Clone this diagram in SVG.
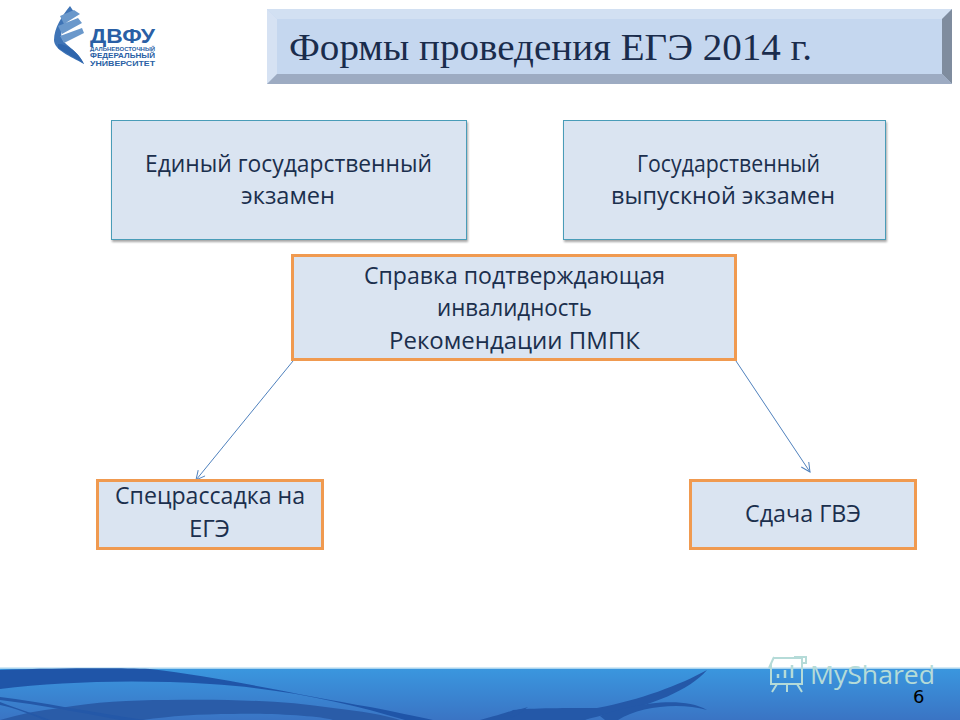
<svg xmlns="http://www.w3.org/2000/svg" width="960" height="720" viewBox="0 0 960 720">
<style>
.t{font-family:"Open Sans","Noto Sans","DejaVu Sans",sans-serif;font-size:24px;fill:#1b2f4d}
.b{fill:#dae4f1;stroke:#4a9cb8;stroke-width:1}
.o{fill:#dae4f1;stroke:#f09a50;stroke-width:3}
.c{fill:none;stroke:#4f81bd;stroke-width:1}
.l{font-family:"Liberation Sans",Arial,sans-serif;font-weight:700;fill:#2a5fa5}
.s{fill:#2458a8}
</style>
<defs>
<linearGradient id="foot" x1="0" y1="0" x2="0" y2="1"><stop offset="0" stop-color="#3a97df"/><stop offset="1" stop-color="#3a74c4"/></linearGradient>
<marker id="arr" markerWidth="12" markerHeight="12" refX="10" refY="5" orient="auto" markerUnits="userSpaceOnUse"><path d="M1 0.500L10 5L1 9.500" fill="none" stroke="#4f81bd" stroke-width="1"/></marker>
<filter id="sh" x="-5%" y="-5%" width="110%" height="112%"><feDropShadow dx="1" dy="2" stdDeviation="1.200" flood-color="#000" flood-opacity=".35"/></filter>
</defs>
<rect width="960" height="720" fill="#fff"/>

<g id="footer">
<rect y="668" width="960" height="52" fill="url(#foot)"/>
<rect y="667.500" width="960" height="1.500" fill="#a9d4ee"/>
<path d="M0 670C60 668 120 668 150 669C220 677 300 695 370 707C395 712 415 716 433 720H405C350 703 280 688 210 684C130 679 60 682 0 689Z" fill="#1f55a8"/>
<path d="M0 720C20 714 40 710 60 708C95 702 130 700 167 700C220 699 280 700 333 708C360 711 385 715 400 720H333C320 716 270 713 233 714C200 714 170 716 143 720Z" fill="#2a5ca8"/>
<path class="s" d="M0 697C40 702 90 712 145 720H120C80 712 40 705 0 700Z"/>
<path class="s" d="M0 702C15 708 35 714 50 720H44C30 714 15 708 0 705Z"/>
<path class="s" d="M480 720C495 716 510 712 513 710C530 708 570 708 597 708C640 700 680 685 707 670C690 690 650 706 613 713C600 716 590 718 585 720Z"/>
<path class="s" d="M600 716C625 706 680 694 707 710C680 702 640 706 618 720H605Z"/>
<path class="s" d="M513 711C518 710 524 708 528 707C522 712 515 716 510 718Z"/>
</g>

<g id="logo">
<path fill="#3f74b6" d="M70 6C62 16 54 28 54 40C54 50 70 56 84 64C80 54 70 48 64 42C58 34 62 22 74 12Z"/>
<path fill="#6a98cb" d="M60 16L74 10L80 14L64 24ZM58 26L78 18L82 23L62 34ZM60 36L82 28L84 33L64 43Z"/>
<path fill="#2f66ad" d="M58 44C68 44 78 52 84 64C76 58 66 53 58 48Z"/>
<text class="l" x="90" y="43" font-size="19.500" textLength="65" lengthAdjust="spacingAndGlyphs">ДВФУ</text>
<text class="l" x="90" y="50.500" font-size="5" textLength="65" lengthAdjust="spacingAndGlyphs">ДАЛЬНЕВОСТОЧНЫЙ</text>
<text class="l" x="90" y="57.500" font-size="6.500" textLength="65" lengthAdjust="spacingAndGlyphs">ФЕДЕРАЛЬНЫЙ</text>
<text class="l" x="90" y="65.500" font-size="6.500" textLength="65" lengthAdjust="spacingAndGlyphs">УНИВЕРСИТЕТ</text>
</g>

<g id="title">
<rect x="267" y="9" width="685" height="75" fill="#c5d7ef"/>
<path d="M267 9H952L942 19H277Z" fill="#d2e0f2"/>
<path d="M267 9L277 19V74L267 84Z" fill="#d6e2f3"/>
<path d="M952 9L942 19V74L952 84Z" fill="#7f8c9e"/>
<path d="M267 84L277 74H942L952 84Z" fill="#9dabc2"/>
<text x="289" y="60" font-family="'Liberation Serif','DejaVu Serif',serif" font-size="38" fill="#1a2c4c" textLength="523" lengthAdjust="spacingAndGlyphs">Формы проведения ЕГЭ 2014 г.</text>
</g>

<g id="connectors">
<path class="c" d="M293 361L196 480" marker-end="url(#arr)"/>
<path class="c" d="M736 361L810 472" marker-end="url(#arr)"/>
</g>

<g id="node-ege">
<rect class="b" x="111.500" y="120.500" width="355" height="119" filter="url(#sh)"/>
<text class="t" x="145" y="172" textLength="287" lengthAdjust="spacingAndGlyphs">Единый государственный</text>
<text class="t" x="241" y="204" textLength="94" lengthAdjust="spacingAndGlyphs">экзамен</text>
</g>
<g id="node-gve">
<rect class="b" x="563.500" y="120.500" width="322" height="119" filter="url(#sh)"/>
<text class="t" x="637" y="172" textLength="183" lengthAdjust="spacingAndGlyphs">Государственный</text>
<text class="t" x="611" y="204" textLength="224" lengthAdjust="spacingAndGlyphs">выпускной экзамен</text>
</g>
<g id="node-cert">
<rect class="o" x="292.500" y="255.500" width="443" height="104"/>
<text class="t" x="364" y="284" textLength="301" lengthAdjust="spacingAndGlyphs">Справка подтверждающая</text>
<text class="t" x="437" y="316" textLength="155" lengthAdjust="spacingAndGlyphs">инвалидность</text>
<text class="t" x="389" y="349" textLength="251" lengthAdjust="spacingAndGlyphs">Рекомендации ПМПК</text>
</g>
<g id="node-seat">
<rect class="o" x="97.500" y="480.500" width="225" height="68"/>
<text class="t" x="115" y="504" textLength="190" lengthAdjust="spacingAndGlyphs">Спецрассадка на</text>
<text class="t" x="189" y="537" textLength="41" lengthAdjust="spacingAndGlyphs">ЕГЭ</text>
</g>
<g id="node-pass">
<rect class="o" x="690.500" y="480.500" width="225" height="68"/>
<text class="t" x="745" y="522" textLength="116" lengthAdjust="spacingAndGlyphs">Сдача ГВЭ</text>
</g>

<g id="watermark" fill="none" stroke="#b5dbd8" stroke-width="2">
<path d="M773 658H802V684H771V664M769 668L774 657M794 657H806V663H802"/>
<path d="M777 684L772 692M787 684V692M797 684L802 692"/>
<path d="M778 678V674M785 678V670M792 678V665" stroke-width="2.500"/>
<text x="810" y="684" font-family="'Open Sans','Noto Sans',sans-serif" font-size="25" fill="#b5dbd8" stroke="none" textLength="125" lengthAdjust="spacingAndGlyphs">MyShared</text>
</g>
<text id="page" x="913" y="703" font-family="'DejaVu Sans',sans-serif" font-size="18" fill="#000">6</text>
</svg>
